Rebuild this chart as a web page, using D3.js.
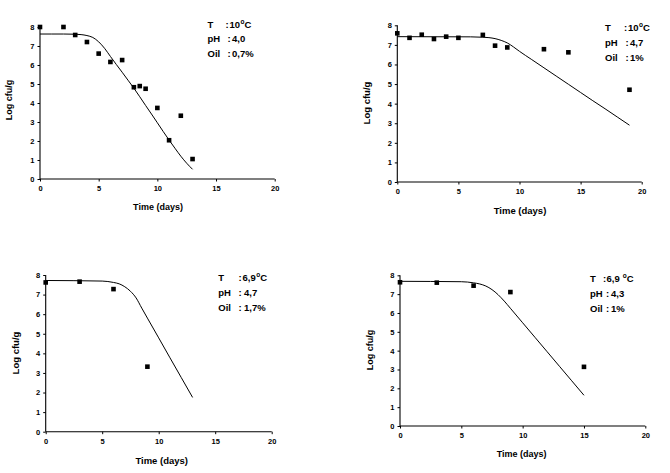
<!DOCTYPE html>
<html><head><meta charset="utf-8">
<script src="https://cdn.jsdelivr.net/npm/d3@7"></script>
<style>
html,body{margin:0;padding:0;background:#fff;}
svg{display:block;}
text{font-family:"Liberation Sans",Arial,sans-serif;font-weight:bold;fill:#000;}
</style></head>
<body>
<svg id="chart" width="670" height="473"></svg>
<script>
// ---- data ----
const xTicks = [0, 5, 10, 15, 20];
const yTicks = [0, 1, 2, 3, 4, 5, 6, 7, 8];
const xLabel = "Time (days)";
const yLabel = "Log cfu/g";

const obs1Days = [0, 2, 3, 4, 5, 6, 7, 8, 8.5, 9, 10, 11, 12, 13];
const obs1Log  = [8.0, 8.0, 7.58, 7.21, 6.6, 6.16, 6.26, 4.83, 4.89, 4.75, 3.74, 2.04, 3.33, 1.05];
const fit1Days = [0, 1, 2, 3, 3.5, 4, 4.5, 5, 5.5, 6, 6.5, 7, 7.5, 8, 8.5, 9, 9.5, 10, 10.5, 11, 11.5, 12, 12.5, 13];
const fit1Log  = [7.63, 7.63, 7.63, 7.62, 7.6, 7.55, 7.45, 7.22, 6.88, 6.45, 6.03, 5.62, 5.2, 4.78, 4.33, 3.87, 3.42, 2.96, 2.5, 2.05, 1.62, 1.2, 0.83, 0.51];

const obs2Days = [0, 1, 2, 3, 4, 5, 7, 8, 9, 12, 14, 19];
const obs2Log  = [7.59, 7.36, 7.52, 7.30, 7.42, 7.36, 7.51, 6.96, 6.87, 6.78, 6.62, 4.71];
const fit2Days = [0, 6, 7, 7.5, 8, 8.5, 9, 9.5, 10, 11, 12, 13, 14, 15, 16, 17, 18, 19];
const fit2Log  = [7.42, 7.41, 7.39, 7.37, 7.32, 7.23, 7.1, 6.9, 6.67, 6.25, 5.83, 5.41, 4.99, 4.57, 4.15, 3.74, 3.32, 2.9];

const obs3Days = [0, 3, 6, 9];
const obs3Log  = [7.62, 7.66, 7.28, 3.32];
const fit3Days = [0, 5, 6, 6.5, 7, 7.5, 8, 8.5, 9, 10, 11, 12, 13];
const fit3Log  = [7.72, 7.69, 7.62, 7.55, 7.4, 7.17, 6.83, 6.31, 5.8, 4.79, 3.77, 2.76, 1.75];

const obs4Days = [0, 3, 6, 9, 15];
const obs4Log  = [7.63, 7.61, 7.45, 7.11, 3.14];
const fit4Days = [0, 5, 6, 6.5, 7, 7.5, 8, 8.5, 9, 10, 11, 12, 13, 14, 15];
const fit4Log  = [7.68, 7.66, 7.6, 7.54, 7.43, 7.24, 6.97, 6.63, 6.25, 5.48, 4.71, 3.94, 3.17, 2.4, 1.63];

const condTemp = ["10", "10", "6,9", "6,9 "];
const condPH   = ["4,0", "4,7", "4,7", "4,3"];
const condOil  = ["0,7%", "1%", "1,7%", "1%"];

// ---- layout (positions only) ----
const layout = [
  {x0:40, x1:274.7, yb:179, yt:27, ax:[207.5,225.5,229.5,227.5,232], ab:[27.5,42,56.5], tx:158, tb:210, lx:12, ly:100, tf:9},
  {x0:397.3, x1:641.7, yb:182, yt:25.3, ax:[605,624,628,625.5,630], ab:[30.7,46,61], tx:520, tb:214, lx:370, ly:103, tf:9.5},
  {x0:45.7, x1:271.7, yb:431.7, yt:275, ax:[218.3,238.5,242.5,238.5,244], ab:[280.7,296,311], tx:161.7, tb:464, lx:19, ly:353, tf:9.5},
  {x0:400, x1:645.3, yb:426, yt:275.3, ax:[590,603,606.5,606,611], ab:[282,296.7,311.7], tx:521.7, tb:457, lx:372.5, ly:350, tf:9}
];

const panels = [
  {obsX:obs1Days, obsY:obs1Log, fitX:fit1Days, fitY:fit1Log},
  {obsX:obs2Days, obsY:obs2Log, fitX:fit2Days, fitY:fit2Log},
  {obsX:obs3Days, obsY:obs3Log, fitX:fit3Days, fitY:fit3Log},
  {obsX:obs4Days, obsY:obs4Log, fitX:fit4Days, fitY:fit4Log}
];

const svg = d3.select("#chart");

panels.forEach((p, i) => {
  const L = layout[i];
  const x = d3.scaleLinear().domain([0, 20]).range([L.x0, L.x1]);
  const y = d3.scaleLinear().domain([0, 8]).range([L.yb, L.yt]);
  const g = svg.append("g");

  const xAxis = g.append("g").attr("transform", `translate(0,${L.yb})`)
    .call(d3.axisBottom(x).tickValues(xTicks).tickSize(2.5).tickPadding(4).tickFormat(d3.format("d")));
  const yAxis = g.append("g").attr("transform", `translate(${L.x0},0)`)
    .call(d3.axisLeft(y).tickValues(yTicks).tickSize(2.5).tickPadding(3).tickFormat(d3.format("d")));
  [xAxis, yAxis].forEach(a => {
    a.select(".domain").attr("stroke", "#000").attr("stroke-width", 1.1);
    a.selectAll(".tick line").attr("stroke", "#000").attr("stroke-width", 1);
    a.selectAll(".tick text").style("font-size", "7.5px").style("font-weight", "bold")
      .style("font-family", "'Liberation Sans',Arial,sans-serif");
  });
  xAxis.select(".domain").attr("d", `M${L.x0},0H${L.x1}`);
  yAxis.select(".domain").attr("d", `M0,${L.yb}V${L.yt}`);

  // fitted curve
  const fit = p.fitX.map((d, k) => [d, p.fitY[k]]);
  g.append("path").datum(fit)
    .attr("fill", "none").attr("stroke", "#000").attr("stroke-width", 1)
    .attr("d", d3.line().x(d => x(d[0])).y(d => y(d[1])).curve(d3.curveMonotoneX));

  // observations
  const obs = p.obsX.map((d, k) => [d, p.obsY[k]]);
  const s = 4.6;
  g.selectAll("rect.obs").data(obs).join("rect").attr("class", "obs")
    .attr("x", d => x(d[0]) - s / 2).attr("y", d => y(d[1]) - s / 2)
    .attr("width", s).attr("height", s).attr("fill", "#000");

  // axis titles
  g.append("text").attr("x", L.tx).attr("y", L.tb).attr("text-anchor", "middle")
    .style("font-size", L.tf + "px").text(xLabel);
  g.append("text").attr("transform", `translate(${L.lx},${L.ly}) rotate(-90)`)
    .attr("text-anchor", "middle").style("font-size", L.tf + "px").text(yLabel);

  // conditions annotation
  const fs = "9.5px";
  const a = L.ax, b = L.ab;
  g.append("text").attr("x", a[0]).attr("y", b[0]).style("font-size", fs).text("T");
  g.append("text").attr("x", a[1]).attr("y", b[0]).style("font-size", fs).text(":");
  const tt = g.append("text").attr("x", a[2]).attr("y", b[0]).style("font-size", fs);
  tt.append("tspan").text(condTemp[i]);
  tt.append("tspan").attr("dy", -4).attr("dx", 0.5).style("font-size", "6.5px").text("o");
  tt.append("tspan").attr("dy", 4).text("C");
  g.append("text").attr("x", a[0]).attr("y", b[1]).style("font-size", fs).text("pH");
  g.append("text").attr("x", a[3]).attr("y", b[1]).style("font-size", fs).text(":");
  g.append("text").attr("x", a[4]).attr("y", b[1]).style("font-size", fs).text(condPH[i]);
  g.append("text").attr("x", a[0]).attr("y", b[2]).style("font-size", fs).text("Oil");
  g.append("text").attr("x", a[3]).attr("y", b[2]).style("font-size", fs).text(":");
  g.append("text").attr("x", a[4]).attr("y", b[2]).style("font-size", fs).text(condOil[i]);
});
</script>
</body></html>
